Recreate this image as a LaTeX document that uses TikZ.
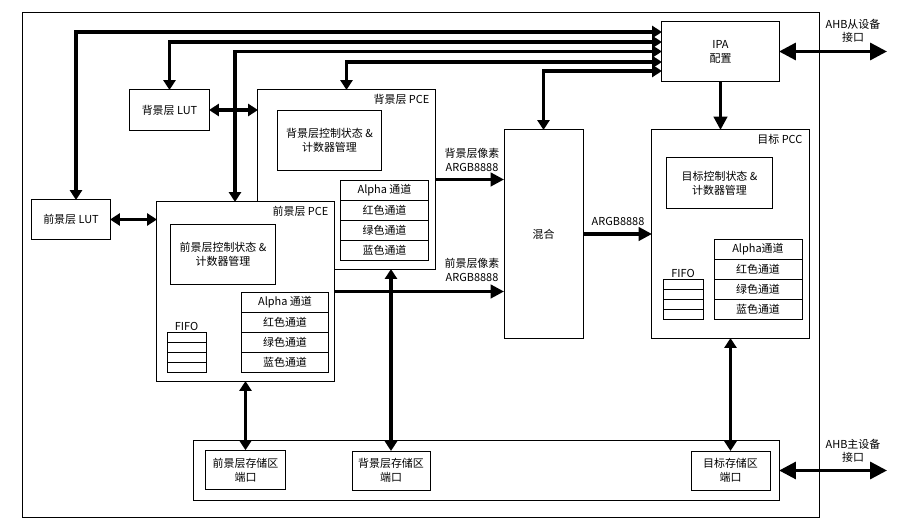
\documentclass[tikz,border=0pt]{standalone}
\usepackage{fontspec}
\setmainfont{Noto Sans CJK SC}
\usetikzlibrary{arrows.meta,calc}

\tikzset{
	box/.style={draw,line width=0.7pt,fill=white,inner sep=0pt,outer sep=0pt,align=center,font=\fontsize{7.8}{10}\selectfont},
	lbl/.style={inner sep=1pt,align=center,font=\fontsize{7.8}{9.4}\selectfont},
	bus/.style={line width=2.2pt,>={Triangle[length=7pt,width=8.5pt]}},
	datbus/.style={line width=2.2pt,>={Triangle[length=9.5pt,width=9.5pt]}},
	ahbbus/.style={line width=2.4pt,>={Triangle[length=12pt,width=12pt]}}
}

\begin{document}
\begin{tikzpicture}[x=0.025cm,y=-0.025cm]
		\useasboundingbox (0,0) rectangle (923,530);
		\draw[line width=0.7pt] (22,12) rectangle (819,517);
		
		% IPA
		\node[box,minimum width=2.925cm,minimum height=1.475cm] (ipa) at (720.5,51.5) {IPA\\配置};
		
		% LUTs
		\node[box,minimum width=1.975cm,minimum height=1cm] (bglut) at (169.5,110) {背景层 LUT};
		\node[box,minimum width=1.95cm,minimum height=0.975cm] (fglut) at (71,219.5) {前景层 LUT};
		
		% background PCE
		\node[box,minimum width=4.425cm,minimum height=4.475cm] (bgpce) at (346.5,179.5) {};
		\node[lbl,anchor=north east] (bgtitle) at ($(bgpce.north east)+(-4,3)$) {背景层 PCE};
		\node[box,minimum width=2.575cm,minimum height=1.475cm] (bgctl) at (329.5,140.5) {背景层控制状态 \&\\计数器管理};
		\node[box,minimum width=2.175cm,minimum height=0.5cm] (bga) at (384.5,190) {Alpha 通道};
		\node[box,minimum width=2.175cm,minimum height=0.5cm] (bgr) at (384.5,210) {红色通道};
		\node[box,minimum width=2.175cm,minimum height=0.5cm] (bgg) at (384.5,230) {绿色通道};
		\node[box,minimum width=2.175cm,minimum height=0.5cm] (bgb) at (384.5,250) {蓝色通道};
		
		% foreground PCE
		\node[box,minimum width=4.425cm,minimum height=4.475cm] (fgpce) at (245.5,291.5) {};
		\node[lbl,anchor=north east] (fgtitle) at ($(fgpce.north east)+(-4,3)$) {前景层 PCE};
		\node[box,minimum width=2.6cm,minimum height=1.475cm] (fgctl) at (223,254.5) {前景层控制状态 \&\\计数器管理};
		\node[box,minimum width=2.15cm,minimum height=0.5cm] (fga) at (285,302) {Alpha 通道};
		\node[box,minimum width=2.15cm,minimum height=0.5cm] (fgr) at (285,322) {红色通道};
		\node[box,minimum width=2.15cm,minimum height=0.5cm] (fgg) at (285,342) {绿色通道};
		\node[box,minimum width=2.15cm,minimum height=0.5cm] (fgb) at (285,362) {蓝色通道};
		\node[box,minimum width=0.975cm,minimum height=0.25cm] (fgf1) at (186.5,337) {};
		\node[box,minimum width=0.975cm,minimum height=0.25cm] (fgf2) at (186.5,347) {};
		\node[box,minimum width=0.975cm,minimum height=0.25cm] (fgf3) at (186.5,357) {};
		\node[box,minimum width=0.975cm,minimum height=0.25cm] (fgf4) at (186.5,367) {};
		\node[lbl,anchor=south] (fgfifo) at (fgf1.north) {FIFO};
		
		% blender
		\node[box,minimum width=1.975cm,minimum height=5.2cm] (mix) at (543.5,234) {混合};
		
		% target PCC
		\node[box,minimum width=3.925cm,minimum height=5.2cm] (pcc) at (730.5,234) {};
		\node[lbl,anchor=north east] (pcctitle) at ($(pcc.north east)+(-5,3)$) {目标 PCC};
		\node[box,minimum width=2.625cm,minimum height=1.25cm] (pccctl) at (719.5,183) {目标控制状态 \&\\计数器管理};
		\node[box,minimum width=2.2cm,minimum height=0.5cm] (pcca) at (758,249) {Alpha通道};
		\node[box,minimum width=2.2cm,minimum height=0.5cm] (pccr) at (758,269) {红色通道};
		\node[box,minimum width=2.2cm,minimum height=0.5cm] (pccg) at (758,289) {绿色通道};
		\node[box,minimum width=2.2cm,minimum height=0.5cm] (pccb) at (758,309) {蓝色通道};
		\node[box,minimum width=1cm,minimum height=0.25cm] (pf1) at (683,284) {};
		\node[box,minimum width=1cm,minimum height=0.25cm] (pf2) at (683,294) {};
		\node[box,minimum width=1cm,minimum height=0.25cm] (pf3) at (683,304) {};
		\node[box,minimum width=1cm,minimum height=0.25cm] (pf4) at (683,314) {};
		\node[lbl,anchor=south] (pccfifo) at (pf1.north) {FIFO};
		
		% memory ports
		\node[box,minimum width=14.625cm,minimum height=1.475cm] (mem) at (486.5,470.5) {};
		\node[box,minimum width=1.975cm,minimum height=0.9875cm] (fgmem) at (245.5,470) {前景层存储区\\端口};
		\node[box,minimum width=1.95cm,minimum height=0.975cm] (bgmem) at (391,470.5) {背景层存储区\\端口};
		\node[box,minimum width=1.975cm,minimum height=0.975cm] (dstmem) at (730.5,470.5) {目标存储区\\端口};
		
		% AHB ends
		\coordinate (ahbs) at (887,51.5);
		\coordinate (ahbm) at (887,470.5);
		\node[lbl] (ahbslbl) at (853,31) {AHB从设备\\接口};
		\node[lbl] (ahbmlbl) at (853,451) {AHB主设备\\接口};
		
		% configuration buses
		\draw[bus,<->] ($(fglut.north)+(5,0)$) |- ($(ipa.west)+(0,-19.5)$);
		\draw[bus,<->] (bglut.north) |- ($(ipa.west)+(0,-9.5)$);
		\draw[bus,<->] ($(fgpce.north)+(-10.5,0)$) |- (ipa.west);
		\draw[bus,<->] (bgpce.north) |- ($(ipa.west)+(0,10.5)$);
		\draw[bus,<->] (mix.north) |- ($(ipa.west)+(0,19.5)$);
		\draw[datbus,->] (ipa.south) -- (ipa.south |- pcc.north);
		
		% LUT links
		\draw[bus,<->] (bglut.east) -- (bglut.east -| bgpce.west);
		\draw[bus,<->] (fglut.east) -- (fglut.east -| fgpce.west);
		
		% pixel data
		\draw[datbus,->] (bgpce.east) -- (bgpce.east -| mix.west);
		\draw[datbus,->] (fgpce.east) -- (fgpce.east -| mix.west);
		\draw[datbus,->] (mix.east) -- (pcc.west);
		\node[lbl] (bgpix) at (472,160) {背景层像素\\ARGB8888};
		\node[lbl] (fgpix) at (472,270) {前景层像素\\ARGB8888};
		\node[lbl] (outpix) at (618,221) {ARGB8888};
		
		% memory links
		\draw[bus,<->] (fgpce.south) -- (fgmem.north);
		\draw[bus,<->] (bgmem.north |- bgpce.south) -- (bgmem.north);
		\draw[bus,<->] (pcc.south) -- (dstmem.north);
		
		% AHB
		\draw[ahbbus,<->] (ipa.east) -- (ahbs);
		\draw[ahbbus,<->] (mem.east) -- (ahbm);
	\end{tikzpicture}
\end{document}
